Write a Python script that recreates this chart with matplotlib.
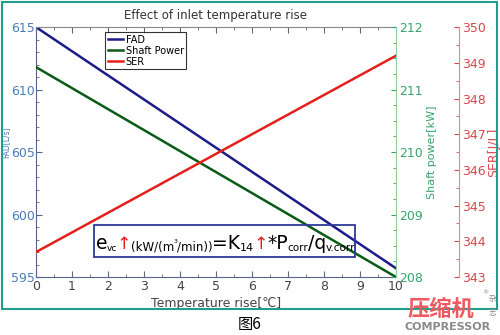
import matplotlib
matplotlib.use("Agg")
import matplotlib.pyplot as plt
from matplotlib.patches import Rectangle
from matplotlib.ticker import MultipleLocator

plt.rcParams['font.family'] = ['DejaVu Sans', 'Noto Sans CJK SC']

# data
temp_rise = [0, 10]
fad = [615.0, 595.7]            # L/s
shaft_power = [211.36, 208.0]   # kW
ser = [343.7, 349.2]            # J/L

c_fad_axis = '#4a7db8'
c_green = '#3aa36a'
c_red = '#d9474c'

fig = plt.figure(figsize=(5, 3.35), dpi=100)
ax = fig.add_axes([0.072, 0.173, 0.72, 0.746])
ax2 = ax.twinx()
ax3 = ax.twinx()
ax3.spines['right'].set_position(('axes', 1.175))

l1, = ax.plot(temp_rise, fad, color='#1c1c8a', lw=1.8, label='FAD')
l2, = ax2.plot(temp_rise, shaft_power, color='#0b5a16', lw=1.8, label='Shaft Power')
l3, = ax3.plot(temp_rise, ser, color='#e3201b', lw=1.8, label='SER')

ax.set_xlim(0, 10)
ax.set_ylim(595, 615)
ax2.set_ylim(208, 212)
ax3.set_ylim(343, 350)

ax.xaxis.set_major_locator(MultipleLocator(1))
ax.xaxis.set_minor_locator(MultipleLocator(0.5))
ax.yaxis.set_major_locator(MultipleLocator(5))
ax.yaxis.set_minor_locator(MultipleLocator(1))
ax2.yaxis.set_major_locator(MultipleLocator(1))
ax2.yaxis.set_minor_locator(MultipleLocator(0.25))
ax3.yaxis.set_major_locator(MultipleLocator(1))
ax3.yaxis.set_minor_locator(MultipleLocator(0.5))

ax.tick_params(axis='x', which='both', direction='in', top=True, colors='#666677',
               labelcolor='#444444', labelsize=9, pad=2)
ax.tick_params(axis='x', which='major', length=4)
ax.tick_params(axis='x', which='minor', length=2)
ax.tick_params(axis='y', which='both', direction='in', colors='#5a6488',
               labelcolor=c_fad_axis, labelsize=9, pad=1)
ax.tick_params(axis='y', which='major', length=4)
ax.tick_params(axis='y', which='minor', length=2)
ax2.tick_params(axis='y', which='both', direction='in', colors=c_green, labelsize=9, pad=2)
ax2.tick_params(axis='y', which='minor', length=2)
ax3.tick_params(axis='y', which='both', direction='in', colors=c_red, labelsize=9, pad=2)
ax3.tick_params(axis='y', which='minor', length=2)

ax.spines['left'].set_color('#5a6488')
ax.spines['bottom'].set_color('#5a6488')
ax.spines['top'].set_color('#888888')
ax.spines['right'].set_visible(False)
ax2.spines['right'].set_color('#8fcf9f')
ax2.spines['top'].set_visible(False)
ax3.spines['right'].set_color('#e08a8d')
ax3.spines['top'].set_visible(False)
for a in (ax2, ax3):
    a.spines['left'].set_visible(False)
    a.spines['bottom'].set_visible(False)

ax.set_xlabel('Temperature rise[℃]', fontsize=9, color='#444444', labelpad=3,
              family=['DejaVu Sans', 'Noto Sans CJK SC'])
ax.set_ylabel('FAD[L/s]', fontsize=5.5, color=c_fad_axis)
ax.yaxis.set_label_coords(-0.072, 0.54)
ax2.set_ylabel('Shaft power[kW]', fontsize=8, color=c_green, labelpad=3)
ax3.set_ylabel('SER[J/L]', fontsize=9, color=c_red, labelpad=1)
ax.set_title('Effect of inlet temperature rise', fontsize=8.5, color='#333333', pad=6)

leg = ax.legend(handles=[l1, l2, l3], loc='upper left', bbox_to_anchor=(0.192, 0.98),
                fontsize=7, frameon=True, fancybox=False, handlelength=1.6,
                handletextpad=0.25, borderpad=0.25, labelspacing=0.1, borderaxespad=0)
leg.get_frame().set_edgecolor('black')
leg.get_frame().set_linewidth(0.8)

# equation box (transparent)
fig.patches.append(Rectangle((94 / 500, 1 - 257 / 335), 261 / 500, 32 / 335,
                             transform=fig.transFigure, fill=False,
                             edgecolor='#2a3a9a', lw=1.3, zorder=5))

pieces = [
    ('e', 13.5, 'black', 0),
    ('vc', 6.5, 'black', -2),
    ('↑', 12.5, '#e3201b', 0),
    ('(kW/(m', 8.5, 'black', -1),
    ('3', 4.5, 'black', 6),
    ('/min))', 8.5, 'black', -1),
    ('=K', 13.5, 'black', 0),
    ('14', 8, 'black', -2),
    ('↑', 12.5, '#e3201b', 0),
    ('*P', 13.5, 'black', 0),
    ('corr', 7.5, 'black', -2),
    ('/q', 13.5, 'black', 0),
    ('v.corr', 7.5, 'black', -2),
]
renderer = fig.canvas.get_renderer()
x_px = 96
base_px = 335 - 249
for s, size, col, dy in pieces:
    t = fig.text(x_px / 500, (base_px + dy) / 335, s, fontsize=size, color=col,
                 ha='left', va='baseline', zorder=6)
    bb = t.get_window_extent(renderer)
    x_px = bb.x1 - 0.5

# caption and magazine logo
fig.text(0.5, 1 - 324 / 335, '图6', fontsize=11, ha='center', va='center',
         family=['Noto Sans CJK SC'])
fig.text(441 / 500, 1 - 310 / 335, '压缩机', fontsize=16, ha='center', va='center',
         color='#ee5a5f', weight='bold', family=['Noto Sans CJK SC'])
fig.text(448 / 500, 1 - 327 / 335, 'COMPRESSOR', fontsize=8, ha='center', va='center',
         color='#8a8a8a', weight='bold')
fig.text(492 / 500, 1 - 299 / 335, '杂', fontsize=5.5, ha='center', va='center',
         color='#888888', family=['Noto Sans CJK SC'])
fig.text(492 / 500, 1 - 313 / 335, '志', fontsize=5.5, ha='center', va='center',
         color='#888888', family=['Noto Sans CJK SC'])
fig.text(485 / 500, 1 - 293 / 335, '®', fontsize=4.5, ha='center', va='center', color='#888888')

# teal frame
fig.patches.append(Rectangle((1.5 / 500, 1 - 309 / 335), 495 / 500, 307 / 335,
                             transform=fig.transFigure, fill=False,
                             edgecolor='#1f9e8c', lw=1.5, zorder=0))

fig.savefig('out.png', dpi=100)
